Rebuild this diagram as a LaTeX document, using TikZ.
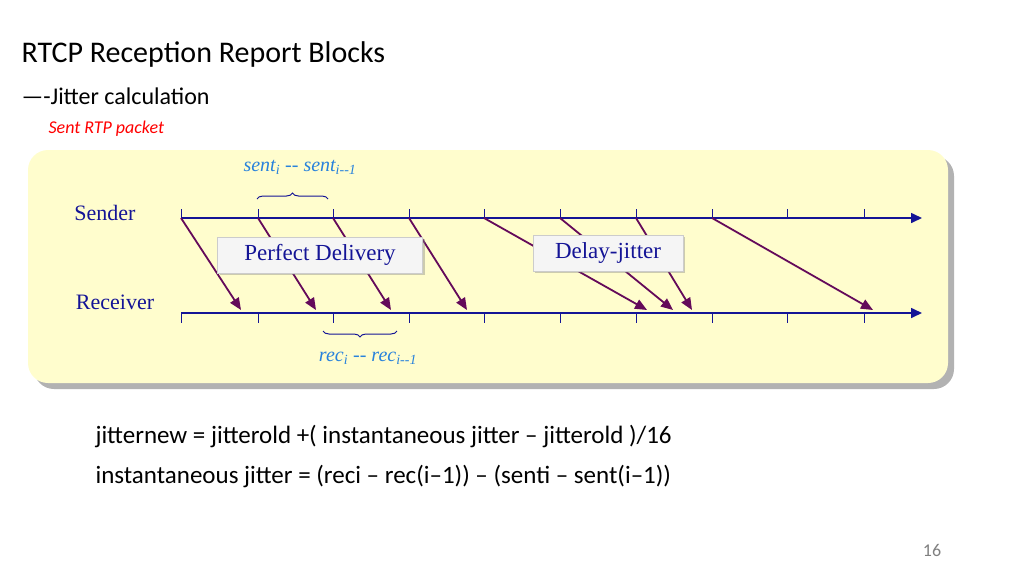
\documentclass[tikz,border=0pt]{standalone}
\usepackage{fontspec}
\setmainfont{Carlito}
\newfontfamily\tms{Liberation Serif}
\usetikzlibrary{arrows.meta,decorations.pathreplacing,shadows}
\definecolor{axis}{RGB}{20,20,150}
\definecolor{pkt}{RGB}{100,10,90}
\definecolor{lbl}{RGB}{40,130,220}
\definecolor{panel}{RGB}{255,253,205}
\tikzset{
 ax/.style={axis,line width=1.6pt,-{Triangle[length=11pt,width=10pt]}},
 tk/.style={axis,line width=1pt},
 pk/.style={pkt,line width=1.8pt,-{Triangle[length=12pt,width=10pt]}},
 tag/.style={draw=gray!40,fill=gray!8,text=axis,font=\tms\fontsize{23}{26}\selectfont,inner sep=3pt,drop shadow={opacity=0.4,shadow xshift=2pt,shadow yshift=-2pt}},
 brc/.style={axis,line width=1pt,decorate,decoration={brace,amplitude=6pt}},
 ml/.style={text=lbl,font=\tms\itshape\fontsize{20}{22}\selectfont}
}
\begin{document}
\begin{tikzpicture}[x=1pt,y=-1pt]
\useasboundingbox (0,0) rectangle (1024,576);
\node[anchor=base west,font=\fontsize{30}{34}\selectfont] (t) at (18,62) {RTCP Reception Report Blocks};
\node[anchor=base west,font=\fontsize{24}{28}\selectfont] (st) at (18,104) {----Jitter calculation};
\node[anchor=base west,text=red,font=\itshape\fontsize{18}{20}\selectfont] (sr) at (45,133) {Sent RTP packet};
\fill[gray!60,rounded corners=20pt] (34,156) rectangle (954,389);
\fill[panel,rounded corners=20pt] (28,150) rectangle (948,383);
\node[text=axis,font=\tms\fontsize{22}{24}\selectfont] (snd) at (105,213) {Sender};
\node[text=axis,font=\tms\fontsize{22}{24}\selectfont] (rcv) at (115,302) {Receiver};
\coordinate (s0) at (181,218); \coordinate (s1) at (922,218);
\coordinate (r0) at (181,313); \coordinate (r1) at (922,313);
\draw[ax] (s0) -- (s1);
\draw[ax] (r0) -- (r1);
\foreach \x [count=\i] in {181,258,333,409,484,560,636,712,787,864}{
 \coordinate (S\i) at (\x,218); \coordinate (R\i) at (\x,313);
 \draw[tk] (\x,209) -- (S\i);
 \draw[tk] (R\i) -- (\x,323);
}
\foreach \i/\e in {1/241,2/316,3/391,4/467,5/647,6/673,7/692,8/873}{
 \coordinate (E\i) at (\e,310);
 \draw[pk] (S\i) -- (E\i);
}
\node[tag,minimum width=205pt,minimum height=36pt] (pd) at (320,255) {Perfect Delivery};
\node[tag,minimum width=150pt,minimum height=36pt] (dj) at (608,253) {Delay-jitter};
\draw[brc] (257,199) -- (328,199);
\node[ml] (sl) at (300,167) {sent\textsubscript{i} -- sent\textsubscript{i--1}};
\draw[brc] (397,331) -- (323,331);
\node[ml] (rl) at (368,358) {rec\textsubscript{i} -- rec\textsubscript{i--1}};
\node[anchor=base west,font=\fontsize{25}{30}\selectfont] (e1) at (92,443) {jitternew = jitterold +( instantaneous jitter -- jitterold )/16};
\node[anchor=base west,font=\fontsize{25}{30}\selectfont] (e2) at (92,483) {instantaneous jitter = (reci -- rec(i--1)) -- (senti -- sent(i--1))};
\node[text=gray,font=\fontsize{18}{20}\selectfont] (pn) at (932,550) {16};
\end{tikzpicture}
\end{document}
